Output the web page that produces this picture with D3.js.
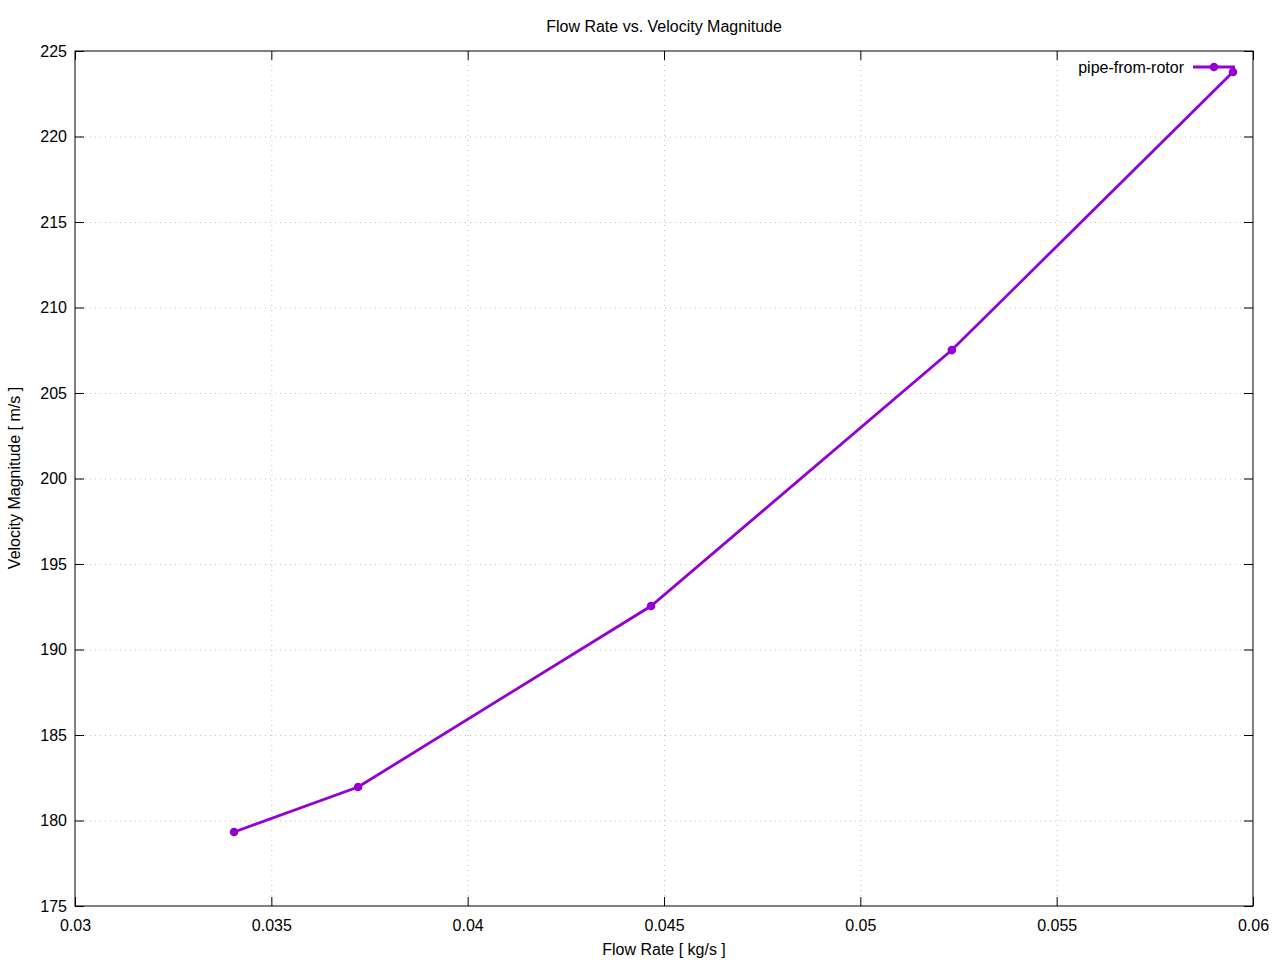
<!DOCTYPE html>
<html lang="en">
<head>
  <meta charset="UTF-8">
  <title>Flow Rate vs. Velocity Magnitude</title>
  <script src="https://d3js.org/d3.v7.min.js"></script>
  <style>
    body { margin: 0; background: #fff; }
    svg { display: block; font-family: 'Liberation Sans', Arial, sans-serif; }
    .grid line { stroke: #b0b0b0; stroke-width: 0.8; stroke-dasharray: 1 4; }
    .grid path { display: none; }
    .axis path { display: none; }
    .axis line { stroke: #000; }
    .axis text { font-size: 16px; fill: #000; }
  </style>
</head>
<body>
<div id="chart"></div>
<script>
  // data
  const flowRate = [0.03405, 0.03721, 0.04467, 0.05233, 0.05949];
  const velocity = [179.33, 181.96, 192.54, 207.51, 223.77];
  const xTicks = [0.03, 0.035, 0.04, 0.045, 0.05, 0.055, 0.06];
  const yTicks = [175, 180, 185, 190, 195, 200, 205, 210, 215, 220, 225];
  const seriesName = "pipe-from-rotor";

  const W = 1280, H = 960;
  const margin = { top: 51, right: 27, bottom: 54, left: 75 };
  const width = W - margin.left - margin.right,
    height = H - margin.top - margin.bottom;
  const color = "#9400d3";

  const svg = d3.select("#chart").append("svg")
    .attr("width", W).attr("height", H);
  const g = svg.append("g")
    .attr("transform", `translate(${margin.left},${margin.top})`);

  const x = d3.scaleLinear().domain([0.03, 0.06]).range([0, width]);
  const y = d3.scaleLinear().domain([175, 225]).range([height, 0]);

  // gridlines
  g.append("g").attr("class", "grid")
    .call(d3.axisLeft(y).tickValues(yTicks.slice(1, -1)).tickSize(-width).tickFormat(""));
  g.append("g").attr("class", "grid")
    .attr("transform", `translate(0,${height})`)
    .call(d3.axisBottom(x).tickValues(xTicks.slice(1, -1)).tickSize(-height).tickFormat(""));

  // axes with inward ticks, mirrored like gnuplot
  const fmt = d => String(+d.toFixed(3));
  g.append("g").attr("class", "axis")
    .attr("transform", `translate(0,${height})`)
    .call(d3.axisBottom(x).tickValues(xTicks).tickSize(-9).tickPadding(14).tickFormat(fmt));
  g.append("g").attr("class", "axis")
    .call(d3.axisTop(x).tickValues(xTicks).tickSize(-9).tickFormat(""));
  g.append("g").attr("class", "axis")
    .call(d3.axisLeft(y).tickValues(yTicks).tickSize(-9).tickPadding(8).tickFormat(d3.format("d")));
  g.append("g").attr("class", "axis")
    .attr("transform", `translate(${width},0)`)
    .call(d3.axisRight(y).tickValues(yTicks).tickSize(-9).tickFormat(""));

  g.append("rect")
    .attr("width", width).attr("height", height)
    .attr("fill", "none").attr("stroke", "#000").attr("stroke-width", 1);

  // line + points
  const pts = flowRate.map((f, i) => ({ f, v: velocity[i] }));
  const line = d3.line().x(d => x(d.f)).y(d => y(d.v));
  g.append("path").datum(pts)
    .attr("fill", "none").attr("stroke", color).attr("stroke-width", 2.8)
    .attr("d", line);
  g.selectAll(".pt").data(pts).enter().append("circle")
    .attr("cx", d => x(d.f)).attr("cy", d => y(d.v)).attr("r", 4.3)
    .attr("fill", color);

  // legend
  const lg = svg.append("g").attr("transform", "translate(1193,67)");
  lg.append("line").attr("x1", 0).attr("x2", 42).attr("y1", 0).attr("y2", 0)
    .attr("stroke", color).attr("stroke-width", 2.8);
  lg.append("circle").attr("cx", 21).attr("cy", 0).attr("r", 4.3).attr("fill", color);
  lg.append("text").attr("x", -9).attr("y", 6).attr("text-anchor", "end")
    .attr("font-size", 16).text(seriesName);

  // titles
  svg.append("text").attr("x", 664).attr("y", 32).attr("text-anchor", "middle")
    .attr("font-size", 16).text("Flow Rate vs. Velocity Magnitude");
  svg.append("text").attr("x", 664).attr("y", 955).attr("text-anchor", "middle")
    .attr("font-size", 16).text("Flow Rate [ kg/s ]");
  svg.append("text").attr("transform", "translate(20,478) rotate(-90)")
    .attr("text-anchor", "middle").attr("font-size", 16).text("Velocity Magnitude [ m/s ]");
</script>
</body>
</html>
